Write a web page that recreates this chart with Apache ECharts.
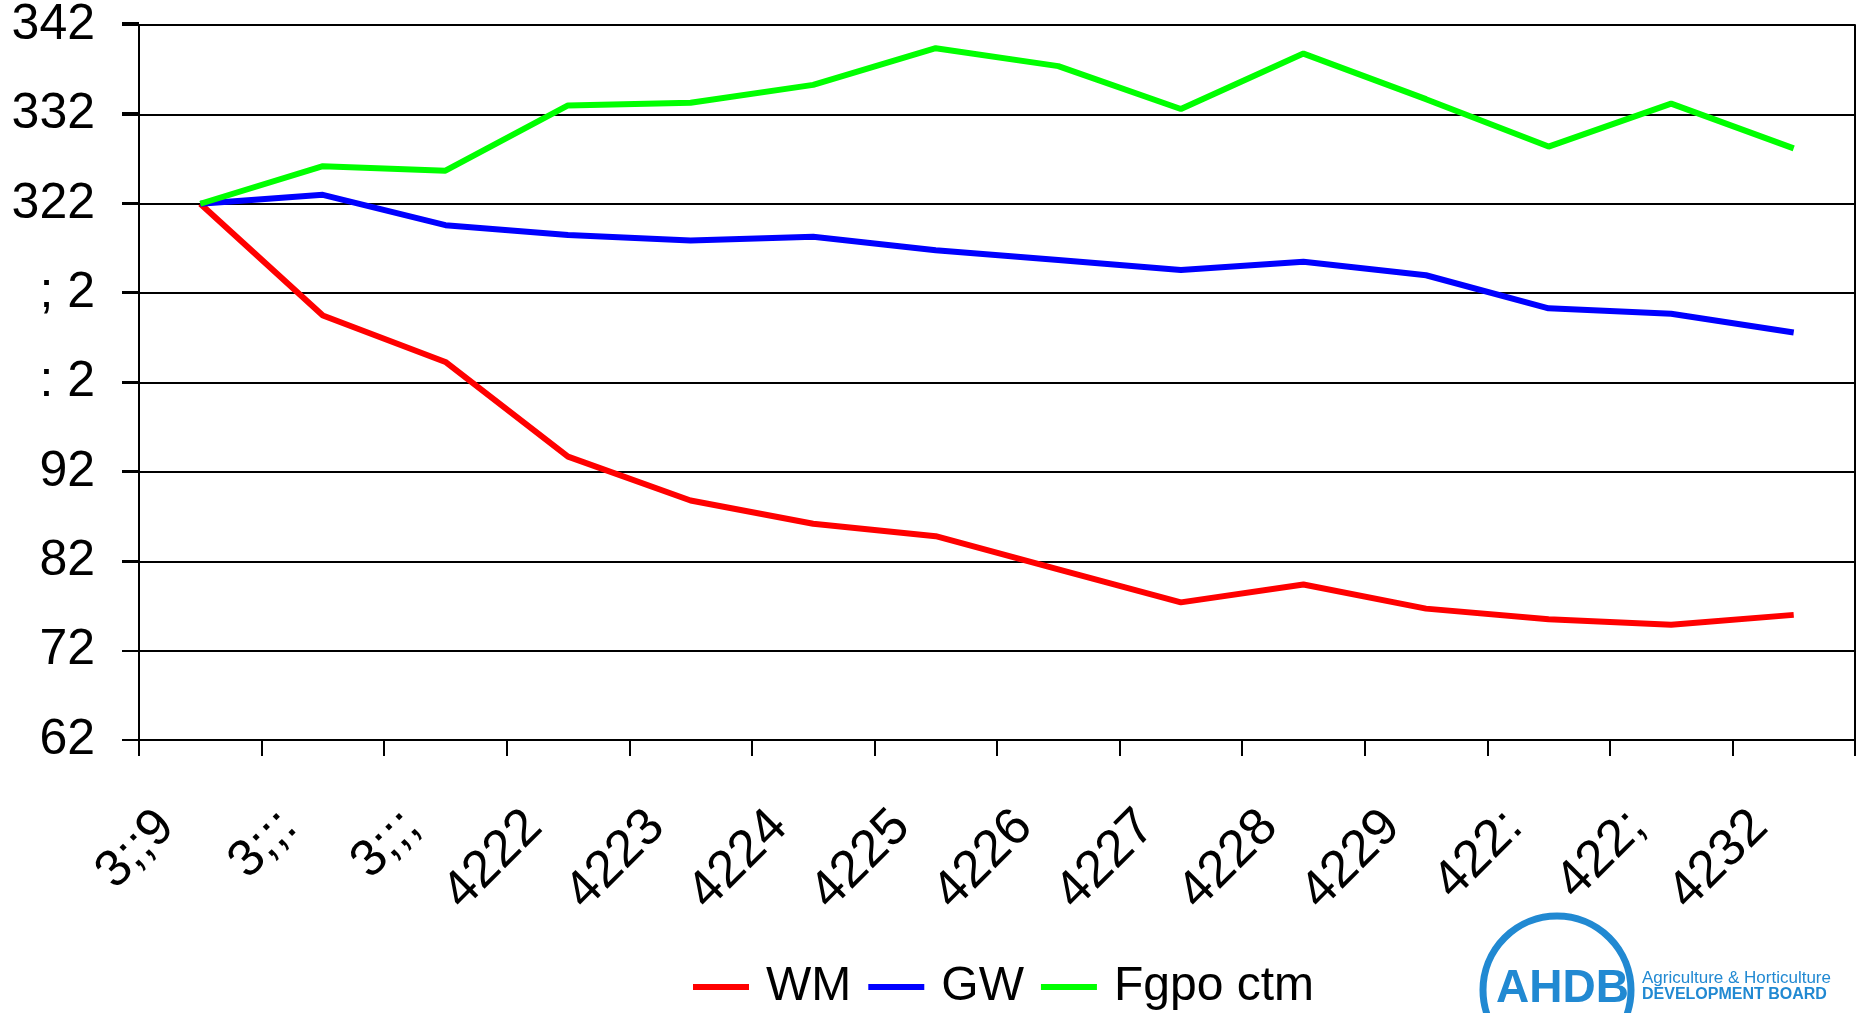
<!DOCTYPE html>
<html>
<head>
<meta charset="utf-8">
<script src="https://cdn.jsdelivr.net/npm/echarts@6/dist/echarts.min.js"></script>
<style>
  html, body { margin: 0; padding: 0; background: #fff; }
  #chart { width: 1858px; height: 1013px; }
</style>
</head>
<body>
<div id="chart"></div>
<script>
// categories and tick labels as they appear in the picture
const years = ["3;;9", "3;;:", "3;;;", "4222", "4223", "4224", "4225", "4226", "4227", "4228", "4229", "422:", "422;", "4232"];
const yTickLabels = ["62", "72", "82", "92", ": 2", "; 2", "322", "332", "342"];
const seriesNames = ["WM", "GW", "Fgpo ctm"];

const ukValues = [100, 87.5, 82.3, 71.7, 66.8, 64.2, 62.8, 59.1, 55.4, 57.4, 54.7, 53.5, 52.9, 54.0];
const euValues = [100, 101.0, 97.6, 96.5, 95.9, 96.3, 94.8, 93.7, 92.6, 93.5, 92.0, 88.3, 87.7, 85.6];
const denmarkValues = [100, 104.2, 103.7, 111.0, 111.3, 113.3, 117.4, 115.4, 110.6, 116.8, 111.7, 106.4, 111.2, 106.2];

const font = "'Liberation Sans', Arial, sans-serif";
const logoBlue = "#2189d2";

let myChart = echarts.init(document.getElementById("chart"));

function lineSeries(name, data, color) {
  return {
    name: name,
    type: "line",
    data: data,
    symbol: "none",
    lineStyle: { color: color, width: 6 },
    itemStyle: { color: color },
  };
}

const blackLine = { color: "#000", width: 2 };

myChart.setOption({
  animation: false,
  grid: [
    { left: 139, right: 3, top: 23, bottom: 273 },
    // narrow strip left of the plot: its split lines stand in for the outward y ticks
    { left: 122, width: 17, top: 23, bottom: 273 },
  ],
  legend: {
    left: 688,
    top: 958,
    icon: "rect",
    itemWidth: 56,
    itemHeight: 6,
    itemGap: 17,
    textStyle: {
      fontFamily: font,
      fontSize: 48,
      color: "#000",
      padding: [0, 0, 0, 12],
    },
    data: seriesNames,
  },
  xAxis: [
    {
      type: "category",
      data: years,
      boundaryGap: true,
      axisLine: { show: true, lineStyle: blackLine },
      axisTick: { show: true, inside: false, interval: 0, length: 16, lineStyle: blackLine },
      axisLabel: {
        rotate: 45,
        margin: 45,
        padding: [0, 48, 0, 0],
        fontFamily: font,
        fontSize: 52,
        color: "#000",
        interval: 0,
      },
    },
    { type: "value", gridIndex: 1, show: false, min: 0, max: 1 },
  ],
  yAxis: [
    {
      type: "value",
      min: 40,
      max: 120,
      interval: 10,
      axisLine: { show: true, lineStyle: blackLine },
      axisTick: { show: true, inside: false, length: 17, lineStyle: blackLine },
      splitLine: { show: true, lineStyle: blackLine },
      axisLabel: {
        margin: 44,
        fontFamily: font,
        fontSize: 50,
        color: "#000",
        formatter: (v) => yTickLabels[Math.round((v - 40) / 10)],
      },
    },
    {
      // right-hand frame of the plot area
      type: "value",
      position: "right",
      min: 40,
      max: 120,
      interval: 10,
      axisLine: { show: true, lineStyle: blackLine },
      axisTick: { show: false },
      axisLabel: { show: false },
      splitLine: { show: false },
    },
    {
      type: "value",
      gridIndex: 1,
      min: 40,
      max: 120,
      interval: 10,
      axisLine: { show: false },
      axisTick: { show: false },
      axisLabel: { show: false },
      splitLine: { show: true, lineStyle: blackLine },
    },
  ],
  series: [
    lineSeries(seriesNames[0], ukValues, "#ff0000"),
    lineSeries(seriesNames[1], euValues, "#0000ff"),
    lineSeries(seriesNames[2], denmarkValues, "#00ff00"),
  ],
  graphic: [
    {
      type: "circle",
      shape: { cx: 1557, cy: 990, r: 74 },
      style: { fill: "none", stroke: logoBlue, lineWidth: 7 },
      z: 10,
    },
    {
      type: "text",
      left: 1496,
      top: 966,
      style: {
        text: "AHDB",
        fill: logoBlue,
        font: "bold 46px " + font,
      },
      z: 11,
    },
    {
      type: "text",
      left: 1642,
      top: 970,
      style: {
        text: "Agriculture & Horticulture",
        fill: logoBlue,
        font: "17px 'Liberation Sans Narrow', " + font,
      },
      z: 11,
    },
    {
      type: "text",
      left: 1642,
      top: 987,
      style: {
        text: "DEVELOPMENT BOARD",
        fill: logoBlue,
        font: "bold 16px 'Liberation Sans Narrow', " + font,
      },
      z: 11,
    },
  ],
});
</script>
</body>
</html>
